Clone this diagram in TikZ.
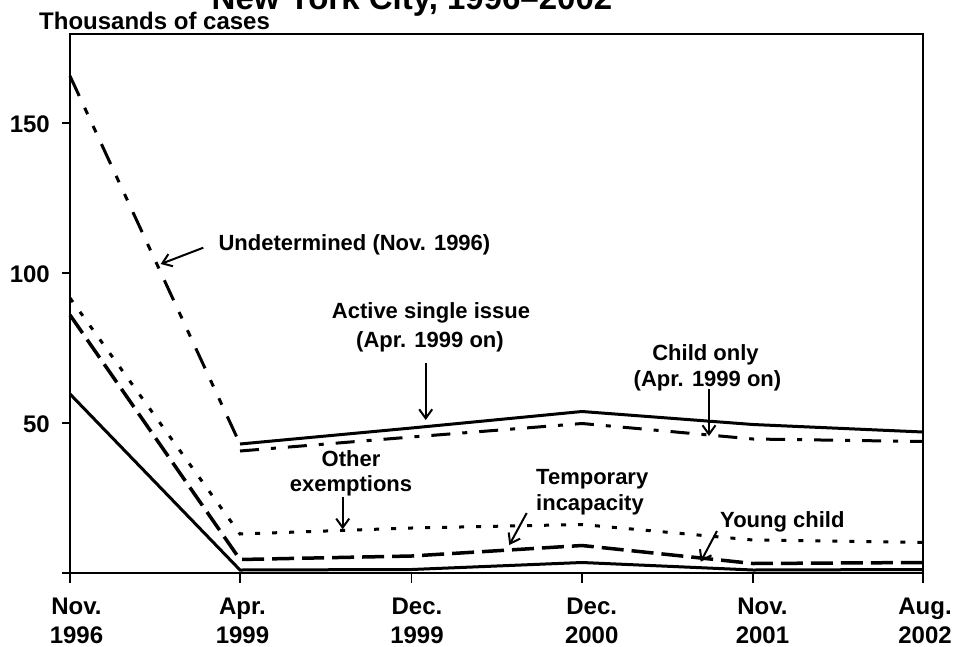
\documentclass[tikz,border=0pt]{standalone}
\usepackage{fontspec}
\setmainfont{Liberation Sans}
\usetikzlibrary{arrows.meta}
\begin{document}
\begin{tikzpicture}[x=1pt,y=-1pt,
  frame/.style={line width=2pt},
  tickmark/.style={line width=1.6pt},
  serie/.style={line width=3pt},
  undetline/.style={serie,dash pattern=on 22pt off 13pt on 7pt off 13pt on 7pt off 13pt},
  dashdotline/.style={serie,dash pattern=on 19pt off 12pt on 5pt off 12pt},
  dotline/.style={serie,dash pattern=on 5pt off 12pt},
  dashline/.style={serie,line width=3.5pt,dash pattern=on 22pt off 8pt},
  annot/.style={line width=2pt,-{Straight Barb[length=9pt,width=13pt,line width=2pt]}},
  lbl/.style={inner sep=0pt,anchor=base,font=\fontsize{22}{26}\selectfont\bfseries},
  axlbl/.style={inner sep=0pt,anchor=base,font=\fontsize{24}{28}\selectfont\bfseries},
  ylbl/.style={inner sep=0pt,anchor=base east,font=\fontsize{24}{28}\selectfont\bfseries}
]
\useasboundingbox (0,0) rectangle (954,646);

% title (cut at the top, as in the source) and axis title
\node[inner sep=0pt,anchor=base,font=\fontsize{33}{38}\selectfont\bfseries] (title) at (412,9) {New York City, 1996–2002};
\node[inner sep=0pt,anchor=base west,font=\fontsize{24}{28}\selectfont\bfseries] (ytitle) at (39,29) {Thousands of cases};

% data series
\draw[undetline] (70,76) -- (240,444);
\draw[serie] (240,444) -- (411.5,428) -- (582,411.5) -- (753,424.5) -- (923,432);
\draw[dashdotline] (240,451) -- (411.5,437) -- (582,423.5) -- (753,439) -- (923,441.5);
\draw[dotline] (70,298) -- (240,534) -- (411.5,528) -- (582,524.5) -- (753,540) -- (923,542.5);
\draw[dashline] (70,315) -- (240,559.5) -- (411.5,556) -- (582,545.5) -- (753,563.5) -- (923,562.5);
\draw[serie] (70,394) -- (240,570) -- (411.5,569.5) -- (582,562.5) -- (753,570) -- (923,569.5);

% frame and ticks
\draw[frame] (70,34) rectangle (923,573);
\foreach \yy in {573,423,273,123} \draw[tickmark] (62,\yy) -- (70,\yy);
\foreach \xx in {70,240,411.5,582,753,923} \draw[tickmark] (\xx,573) -- (\xx,583);

% y labels
\node[ylbl] (y150) at (50,132.5) {150};
\node[ylbl] (y100) at (50,282.5) {100};
\node[ylbl] (y50) at (50,432) {50};

% x labels
\foreach \xx/\mm/\yr/\nm in {76.5/Nov./1996/a, 242.5/Apr./1999/b, 417/Dec./1999/c,
    591.7/Dec./2000/d, 762.5/Nov./2001/e, 925/Aug./2002/f} {
  \node[axlbl] (m\nm) at (\xx,614) {\mm};
  \node[axlbl] (y\nm) at (\xx,643) {\yr};
}

% annotations
\node[lbl,anchor=base west] (undet) at (218.3,250.5) {Undetermined (Nov. 1996)};
\node[lbl] (act1) at (431,318.6) {Active single issue};
\node[lbl] (act2) at (430,347.8) {(Apr. 1999 on)};
\node[lbl] (chi1) at (705.5,360.6) {Child only};
\node[lbl] (chi2) at (707.5,386.2) {(Apr. 1999 on)};
\node[lbl] (oth1) at (351,466.8) {Other};
\node[lbl] (oth2) at (351,491.8) {exemptions};
\node[lbl,anchor=base west] (tmp1) at (536,484) {Temporary};
\node[lbl,anchor=base west] (tmp2) at (536,510.7) {incapacity};
\node[lbl,anchor=base west] (yng) at (720,527.3) {Young child};

\coordinate (undS) at (203.3,247.7); \coordinate (undT) at (160.7,264);
\coordinate (actS) at (425.7,363.3); \coordinate (actT) at (425.7,420);
\coordinate (chiS) at (709,389.3);   \coordinate (chiT) at (709,436);
\coordinate (othS) at (342.7,496.7); \coordinate (othT) at (342.7,529.3);
\coordinate (tmpS) at (526.7,513);   \coordinate (tmpT) at (509.3,545);
\coordinate (yngS) at (717,531);     \coordinate (yngT) at (700.7,561.7);

\draw[annot] (undS) -- (undT);
\draw[annot] (actS) -- (actT);
\draw[annot] (chiS) -- (chiT);
\draw[annot] (othS) -- (othT);
\draw[annot] (tmpS) -- (tmpT);
\draw[annot] (yngS) -- (yngT);
\end{tikzpicture}
\end{document}
